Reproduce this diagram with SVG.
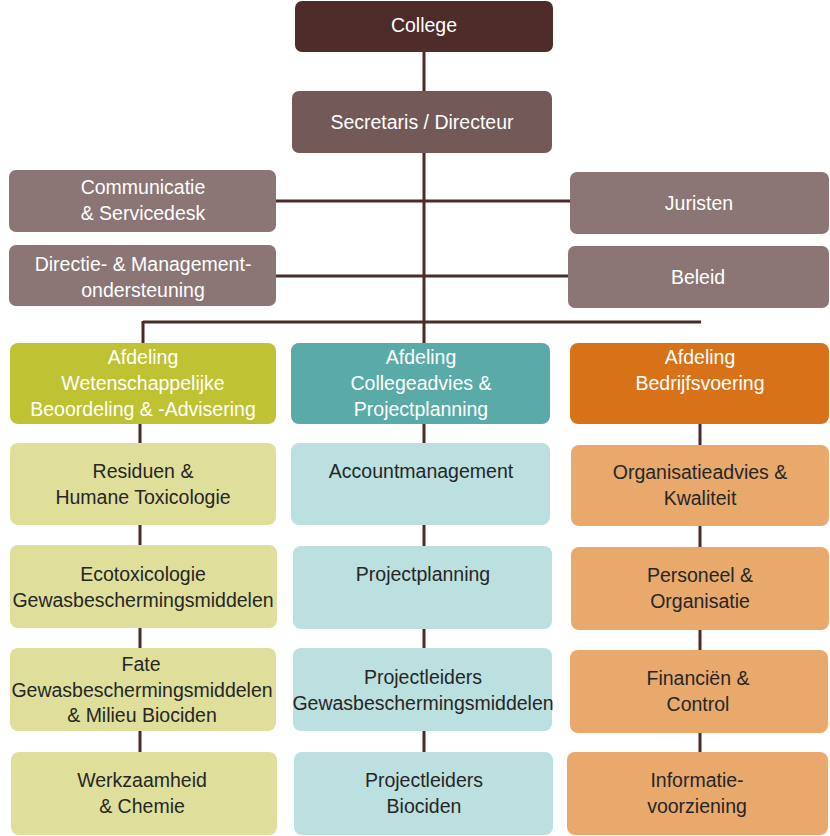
<svg xmlns="http://www.w3.org/2000/svg" width="830" height="836" viewBox="0 0 830 836">
<style>
text{font-family:"Liberation Sans",Arial,sans-serif;font-size:19.5px;text-anchor:middle}
.w{fill:#ffffff}.d{fill:#262626}
.c{stroke:#4a2b29;stroke-width:3;fill:none}
.top{fill:#4e2c2a}.sec{fill:#735957}.staf{fill:#8b7575}
.g1{fill:#bfc232}.t1{fill:#5aaba8}.o1{fill:#d87218}
.g2{fill:#dfdf9b}.t2{fill:#bcdfe0}.o2{fill:#e9a96d}
</style>
<g id="connectors" class="c">
<path d="M424 52V91M424 153V343"/>
<path d="M276 201H570M276 276H568"/>
<path d="M143 322H701M143 321V343"/>
<path d="M140 424V443M140 525V545M140 628V648M140 731V752"/>
<path d="M424 424V443M424 525V546M424 629V648M424 731V752"/>
<path d="M700 424V445M700 526V547M700 630V650M700 733V752"/>
</g>
<g id="college"><rect class="top" x="295" y="1" width="258" height="51" rx="7"/><text class="w" x="424" y="32">College</text></g>
<g id="secretaris"><rect class="sec" x="292" y="91" width="260" height="62" rx="7"/><text class="w" x="422" y="129">Secretaris / Directeur</text></g>
<g id="communicatie"><rect class="staf" x="9" y="170" width="267" height="62" rx="7"/><text class="w" x="143" y="194">Communicatie</text><text class="w" x="143" y="220">&amp; Servicedesk</text></g>
<g id="juristen"><rect class="staf" x="570" y="172" width="259" height="62" rx="7"/><text class="w" x="699" y="210">Juristen</text></g>
<g id="directie"><rect class="staf" x="9" y="245" width="267" height="61" rx="7"/><text class="w" x="143" y="271">Directie- &amp; Management-</text><text class="w" x="143" y="297">ondersteuning</text></g>
<g id="beleid"><rect class="staf" x="568" y="246" width="261" height="62" rx="7"/><text class="w" x="698" y="284">Beleid</text></g>
<g id="afd-wba"><rect class="g1" x="10" y="343" width="266" height="81" rx="8"/><text class="w" x="143" y="364">Afdeling</text><text class="w" x="143" y="390">Wetenschappelijke</text><text class="w" x="143" y="416">Beoordeling &amp; -Advisering</text></g>
<g id="afd-cap"><rect class="t1" x="291" y="343" width="259" height="81" rx="8"/><text class="w" x="421" y="364">Afdeling</text><text class="w" x="421" y="390">Collegeadvies &amp;</text><text class="w" x="421" y="416">Projectplanning</text></g>
<g id="afd-bv"><rect class="o1" x="570" y="343" width="259" height="81" rx="8"/><text class="w" x="700" y="364">Afdeling</text><text class="w" x="700" y="390">Bedrijfsvoering</text></g>
<g id="residuen"><rect class="g2" x="10" y="443" width="266" height="82" rx="8"/><text class="d" x="143" y="478">Residuen &amp;</text><text class="d" x="143" y="504">Humane Toxicologie</text></g>
<g id="accountmanagement"><rect class="t2" x="291" y="443" width="259" height="82" rx="8"/><text class="d" x="421" y="478">Accountmanagement</text></g>
<g id="organisatieadvies"><rect class="o2" x="571" y="445" width="258" height="81" rx="8"/><text class="d" x="700" y="479">Organisatieadvies &amp;</text><text class="d" x="700" y="505">Kwaliteit</text></g>
<g id="ecotoxicologie"><rect class="g2" x="10" y="545" width="267" height="83" rx="8"/><text class="d" x="143" y="581">Ecotoxicologie</text><text class="d" x="143" y="607">Gewasbeschermingsmiddelen</text></g>
<g id="projectplanning"><rect class="t2" x="293" y="546" width="259" height="83" rx="8"/><text class="d" x="423" y="581">Projectplanning</text></g>
<g id="personeel"><rect class="o2" x="571" y="547" width="258" height="83" rx="8"/><text class="d" x="700" y="582">Personeel &amp;</text><text class="d" x="700" y="608">Organisatie</text></g>
<g id="fate"><rect class="g2" x="10" y="648" width="266" height="83" rx="8"/><text class="d" x="141" y="671">Fate</text><text class="d" x="142" y="697">Gewasbeschermingsmiddelen</text><text class="d" x="142" y="722">&amp; Milieu Biociden</text></g>
<g id="projectleiders-gbm"><rect class="t2" x="293" y="648" width="259" height="83" rx="8"/><text class="d" x="423" y="684">Projectleiders</text><text class="d" x="423" y="710">Gewasbeschermingsmiddelen</text></g>
<g id="financien"><rect class="o2" x="570" y="650" width="258" height="83" rx="8"/><text class="d" x="698" y="685">Financiën &amp;</text><text class="d" x="698" y="711">Control</text></g>
<g id="werkzaamheid"><rect class="g2" x="11" y="752" width="266" height="83" rx="8"/><text class="d" x="142" y="787">Werkzaamheid</text><text class="d" x="142" y="813">&amp; Chemie</text></g>
<g id="projectleiders-biociden"><rect class="t2" x="294" y="752" width="259" height="83" rx="8"/><text class="d" x="424" y="787">Projectleiders</text><text class="d" x="424" y="813">Biociden</text></g>
<g id="informatievoorziening"><rect class="o2" x="567" y="752" width="261" height="83" rx="8"/><text class="d" x="697" y="787">Informatie-</text><text class="d" x="697" y="813">voorziening</text></g>
</svg>
